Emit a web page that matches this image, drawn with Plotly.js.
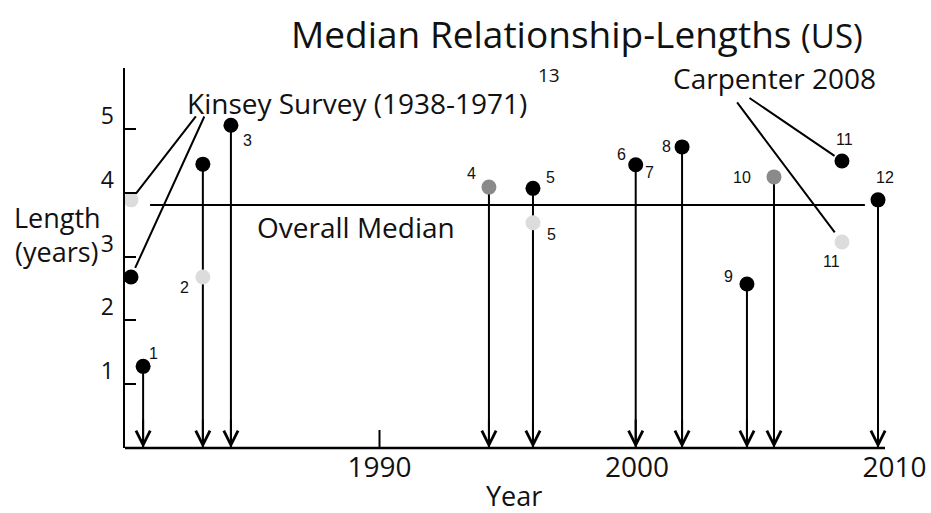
<!DOCTYPE html>
<html>
<head>
<meta charset="utf-8">
<script src="https://cdn.plot.ly/plotly-3.0.1.min.js"></script>
<style>html,body{margin:0;padding:0;background:#fff;}#chart{width:931px;height:513px;}</style>
</head>
<body>
<div id="chart"></div>
<script>
// ---- data ----
const studyYear    = [1980.35, 1980.35, 1980.82, 1983.14, 1983.14, 1984.23, 1994.25, 1995.96, 1995.96, 1999.95, 2001.75, 2004.27, 2005.32, 2007.96, 2007.96, 2009.36];
const medianLength = [3.89, 2.68, 1.28, 4.45, 2.68, 5.06, 4.09, 4.07, 3.53, 4.44, 4.72, 2.57, 4.25, 4.50, 3.23, 3.89];
const shade        = ['light','black','black','black','light','black','grey','black','light','black','black','black','grey','black','light','black'];
const arrowed      = [false, false, true, true, false, true, true, true, false, true, true, true, true, false, false, true];
const refNumbers   = ['', '', '1', '', '2', '3', '4', '5', '5', '6,7', '8', '9', '10', '11', '11', '12'];
const overallMedian = 3.81;
const medianSpan = [1981.09, 2008.85];
const xTickVals = [1990, 2000, 2010];
const yTickVals = [1, 2, 3, 4, 5];
const kinseyPoints = [0, 1];
const carpenterPoints = [13, 14];

// ---- styling / layout helpers ----
const FONT = '"Open Sans", Lato, sans-serif';
const NUMFONT = '"Liberation Sans", Arial, sans-serif';
const colors = {black: '#000000', grey: '#8a8a8a', light: '#dcdcdc'};
const L = 125, R = 26, T = 68, B = 65, W = 931, H = 513;
const PW = W - L - R, PH = H - T - B;
const px = (x, y) => ({x: (x - L) / PW, y: (H - B - y) / PH});
// label offsets (pixels, screen) per label piece
const labelOffsets = {
  2: [[10, -13]], 4: [[-18, 10]], 5: [[17, 15]], 6: [[-17, -14]], 7: [[18, -11]], 8: [[19, 12]],
  9: [[-14, -10], [14, 8]], 10: [[-16, 0]], 11: [[-18, -8]], 12: [[-32, 1]], 13: [[3, -21]], 14: [[-10, 20]], 15: [[7, -22]]
};

const traces = [];
// stems
const sx = [], sy = [];
studyYear.forEach((yr, i) => { if (arrowed[i]) { sx.push(yr, yr, null); sy.push(medianLength[i], 0, null); } });
traces.push({x: sx, y: sy, mode: 'lines', line: {color: '#000', width: 2}, hoverinfo: 'skip', showlegend: false});
// overall median line
traces.push({x: medianSpan, y: [overallMedian, overallMedian], mode: 'lines', line: {color: '#000', width: 2}, showlegend: false});
// dots
['black', 'grey', 'light'].forEach(c => {
  const idx = studyYear.map((_, i) => i).filter(i => shade[i] === c);
  traces.push({x: idx.map(i => studyYear[i]), y: idx.map(i => medianLength[i]), mode: 'markers',
    marker: {color: colors[c], size: 15, line: {width: 0}}, showlegend: false});
});

const annotations = [];
// arrow heads
studyYear.forEach((yr, i) => {
  if (arrowed[i]) annotations.push({x: yr, y: 0, xref: 'x', yref: 'y', ax: 0, ay: -30, text: '', showarrow: true,
    arrowhead: 5, arrowsize: 1.4, arrowwidth: 2, arrowcolor: '#000', standoff: 0});
});
// reference numbers
refNumbers.forEach((t, i) => {
  if (!t) return;
  t.split(',').forEach((piece, k) => {
    const off = (labelOffsets[i] || [[0, 0]])[k] || [0, 0];
    annotations.push({x: studyYear[i], y: medianLength[i], xref: 'x', yref: 'y', text: piece, showarrow: false,
      xshift: off[0], yshift: -off[1], font: {family: NUMFONT, size: 16, color: '#111'}});
  });
});
// pointer lines
const kinseyTails = [[66, -85, 8], [74, -162, 10]];
kinseyPoints.forEach((p, k) => annotations.push({x: studyYear[p], y: medianLength[p], xref: 'x', yref: 'y', text: '',
  showarrow: true, arrowhead: 0, arrowwidth: 2, arrowcolor: '#000', ax: kinseyTails[k][0], ay: kinseyTails[k][1], standoff: kinseyTails[k][2]}));
const carpTails = [[-94, -64, 9], [-106, -141, 12]];
carpenterPoints.forEach((p, k) => annotations.push({x: studyYear[p], y: medianLength[p], xref: 'x', yref: 'y', text: '',
  showarrow: true, arrowhead: 0, arrowwidth: 2, arrowcolor: '#000', ax: carpTails[k][0], ay: carpTails[k][1], standoff: carpTails[k][2]}));

// texts
function txt(text, cx, cy, size, family) {
  const p = px(cx, cy);
  annotations.push({x: p.x, y: p.y, xref: 'paper', yref: 'paper', text: text, showarrow: false, borderpad: 0,
    xanchor: 'center', yanchor: 'middle', font: {family: family || FONT, size: size, color: '#111'}});
}
txt('Median Relationship-Lengths <span style="font-size:33px">(US)</span>', 577, 33, 37);
txt('Kinsey Survey (1938-1971)', 357, 103, 28);
txt('13', 549, 75, 19);
txt('Carpenter 2008', 774, 78, 28);
txt('Overall Median', 356, 227, 28);
txt('Length', 57, 217, 27);
txt('(years)', 57, 252, 27);
txt('Year', 514, 495, 27);

const x0 = 2000 + (L - 637) / 25.75, x1 = 2000 + (W - R - 637) / 25.75;
const layout = {
  width: W, height: H, margin: {l: L, r: R, t: T, b: B},
  paper_bgcolor: '#fff', plot_bgcolor: '#fff', showlegend: false,
  xaxis: {range: [x0, x1], showgrid: false, zeroline: false, showline: false, ticks: '',
    tickvals: xTickVals, ticktext: xTickVals.map(String), tickfont: {family: FONT, size: 28, color: '#111'}, ticklabelstandoff: 0},
  yaxis: {range: [0, 5.957], showgrid: false, zeroline: false, showline: true, linecolor: '#000', linewidth: 2.5,
    ticks: 'inside', ticklen: 11, tickwidth: 2, tickcolor: '#000', tickvals: yTickVals, ticktext: yTickVals.map(String),
    tickfont: {family: FONT, size: 23, color: '#111'}, ticklabelshift: -13, ticklabelstandoff: 4},
  shapes: [
    {type: 'line', xref: 'paper', yref: 'paper', x0: 0, x1: (885 - L) / PW, y0: 0, y1: 0, line: {color: '#000', width: 2.5}},
    {type: 'line', xref: 'x', yref: 'paper', x0: xTickVals[0], x1: xTickVals[0], y0: 0, y1: 18 / PH, line: {color: '#000', width: 2}}
  ],
  annotations: annotations
};
Plotly.newPlot('chart', traces, layout, {staticPlot: true});
</script>
</body>
</html>
